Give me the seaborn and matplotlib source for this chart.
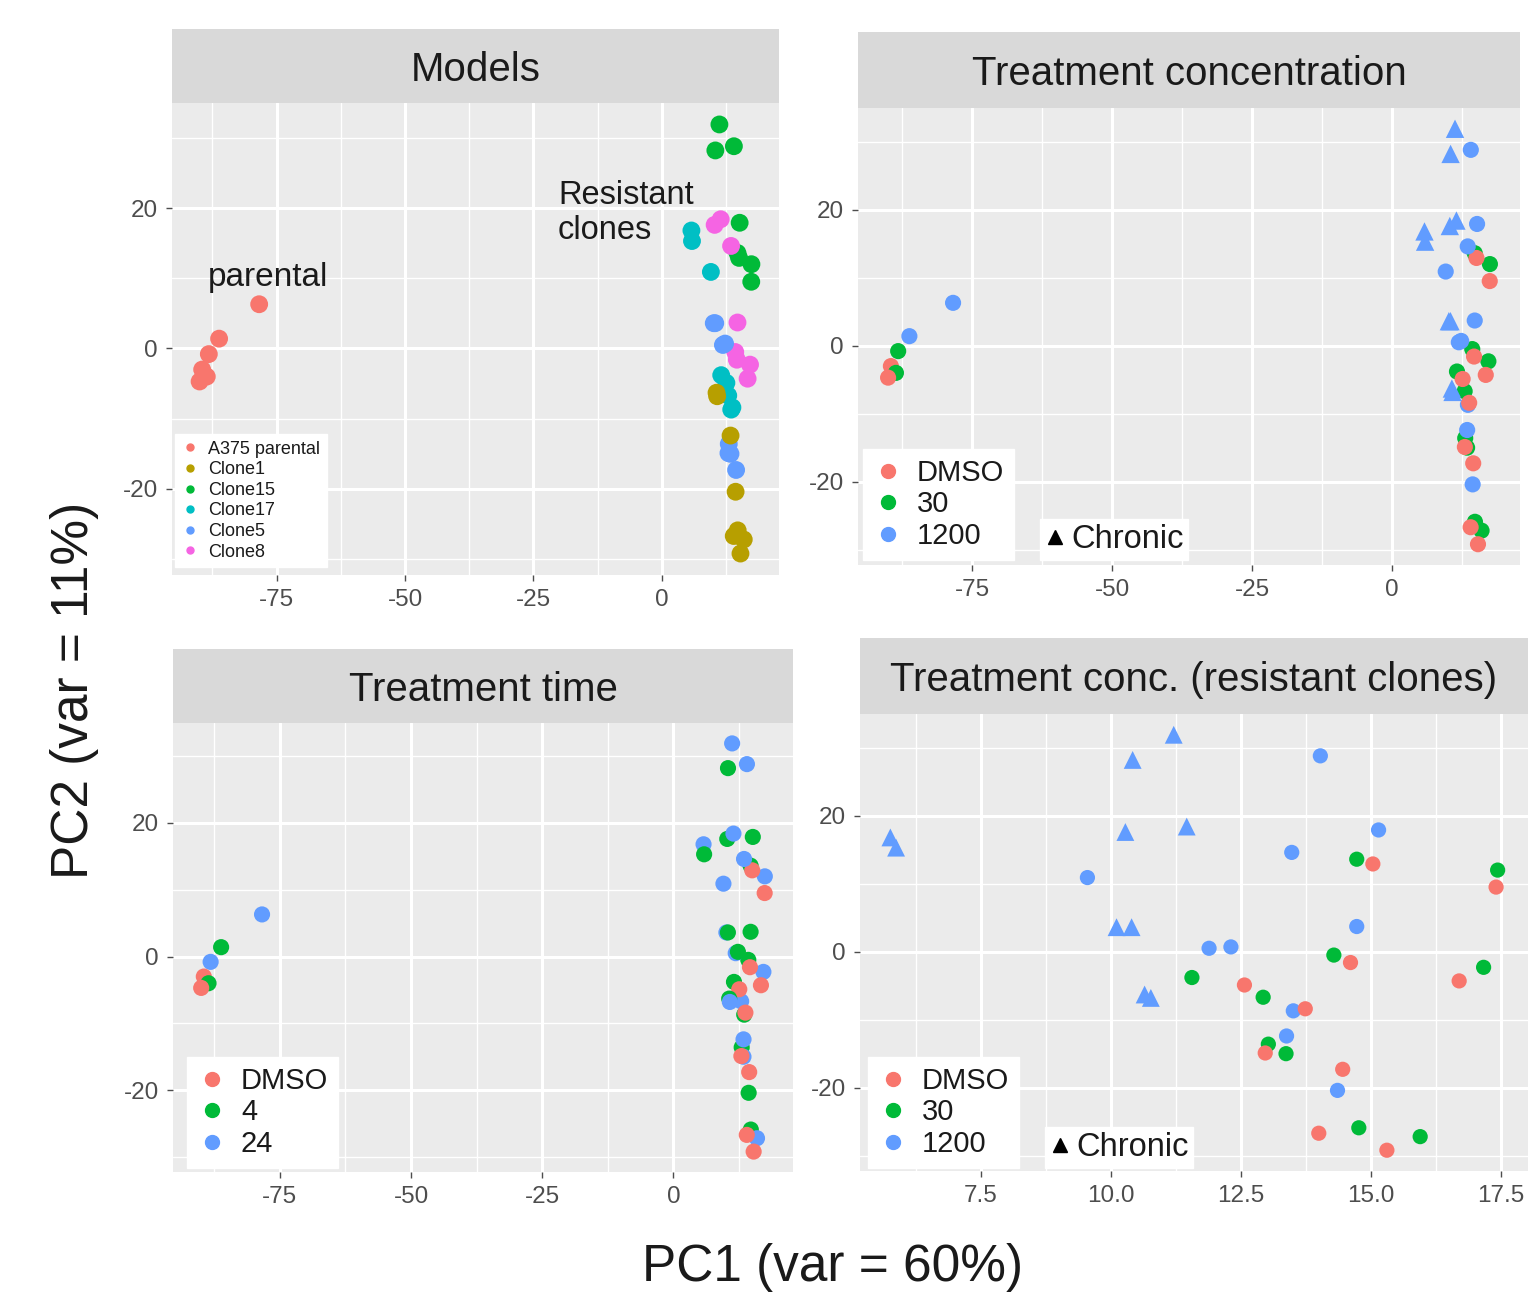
import matplotlib
matplotlib.use("Agg")
import matplotlib.pyplot as plt
from matplotlib.lines import Line2D
from matplotlib.ticker import AutoMinorLocator, FixedLocator
import seaborn as sns
import pandas as pd

sns.set_theme(style="darkgrid", rc={"axes.facecolor": "#EBEBEB", "grid.color": "white"})
plt.rcParams['font.family'] = ['Liberation Sans', 'DejaVu Sans']
plt.rcParams['axes.unicode_minus'] = False

# one row per sample: 6 parental, then 8 per resistant clone
pc1 = [-78.4, -86.2, -88.2, -89.5, -88.6, -90.0,
       11.21, 10.42, 14.03, 15.15, 14.73, 17.44, 15.04, 17.41,
       10.28, 11.46, 13.48, 14.73, 14.29, 17.17, 14.61, 16.70,
       5.76, 5.87, 9.55, 13.51, 11.56, 12.93, 12.57, 13.74,
       10.11, 10.40, 11.89, 12.31, 13.03, 13.37, 12.97, 14.46,
       10.65, 10.77, 13.38, 14.36, 14.77, 15.95, 14.00, 15.31]
pc2 = [6.3, 1.4, -0.8, -3.0, -4.0, -4.7,
       31.9, 28.2, 28.8, 17.9, 13.6, 12.0, 12.9, 9.5,
       17.6, 18.4, 14.6, 3.7, -0.5, -2.3, -1.6, -4.3,
       16.8, 15.3, 10.9, -8.7, -3.8, -6.7, -4.9, -8.4,
       3.6, 3.6, 0.5, 0.7, -13.6, -15.0, -14.9, -17.3,
       -6.3, -6.8, -12.4, -20.4, -25.9, -27.2, -26.7, -29.2]
model = (["A375 parental"] * 6 + ["Clone15"] * 8 + ["Clone8"] * 8
         + ["Clone17"] * 8 + ["Clone5"] * 8 + ["Clone1"] * 8)
conc = (["1200", "1200", "30", "DMSO", "30", "DMSO"]
        + ["1200", "1200", "1200", "1200", "30", "30", "DMSO", "DMSO"] * 5)
time = (["24", "4", "24", "DMSO", "4", "DMSO"]
        + ["24", "4", "24", "4", "4", "24", "DMSO", "DMSO"]
        + ["4", "24", "24", "4", "4", "24", "DMSO", "DMSO"]
        + ["24", "4", "24", "4", "4", "24", "DMSO", "DMSO"]
        + ["24", "4", "24", "4", "4", "24", "DMSO", "DMSO"]
        + ["4", "24", "24", "4", "4", "24", "DMSO", "DMSO"])
chronic = ["no"] * 6 + ["yes", "yes", "no", "no", "no", "no", "no", "no"] * 5

model_order = ["A375 parental", "Clone1", "Clone15", "Clone17", "Clone5", "Clone8"]
model_colors = ["#F8766D", "#B79F00", "#00BA38", "#00BFC4", "#619CFF", "#F564E3"]
conc_order = ["DMSO", "30", "1200"]
time_order = ["DMSO", "4", "24"]
three_colors = ["#F8766D", "#00BA38", "#619CFF"]

df = pd.DataFrame({"PC1": pc1, "PC2": pc2, "Model": model, "Conc": conc,
                   "Time": time, "Chronic": chronic})
clones = df[df["Model"] != "A375 parental"]

W, H = 1532, 1293
fig = plt.figure(figsize=(W / 100, H / 100), dpi=100)


def panel(x0, y0, x1, y1, strip_top, title):
    ax = fig.add_axes([x0 / W, 1 - y1 / H, (x1 - x0) / W, (y1 - y0) / H])
    st = fig.add_axes([x0 / W, 1 - y0 / H, (x1 - x0) / W, (y0 - strip_top) / H])
    st.set_facecolor("#D9D9D9")
    st.set_xticks([])
    st.set_yticks([])
    st.grid(False)
    for s in st.spines.values():
        s.set_visible(False)
    st.text(0.5, 0.45, title, ha="center", va="center", fontsize=29, color="#1A1A1A")
    for s in ax.spines.values():
        s.set_visible(False)
    return ax


def finish(ax, xticks, xfmt):
    ax.set_xlabel("")
    ax.set_ylabel("")
    ax.xaxis.set_major_locator(FixedLocator(xticks))
    ax.set_xticklabels([xfmt.format(v) for v in xticks])
    ax.yaxis.set_major_locator(FixedLocator([-20, 0, 20]))
    ax.set_yticklabels(["-20", "0", "20"])
    ax.xaxis.set_minor_locator(AutoMinorLocator(2))
    ax.yaxis.set_minor_locator(AutoMinorLocator(2))
    ax.grid(which="major", color="white", lw=2.2)
    ax.grid(which="minor", color="white", lw=1.0)
    ax.tick_params(which="major", bottom=True, left=True, length=4, width=1,
                   color="#4D4D4D", labelsize=17.5, labelcolor="#4D4D4D", pad=6)
    ax.tick_params(which="minor", bottom=False, left=False, length=0)


def color_legend(ax, labels, colors, anchor, fs, ms, spacing):
    handles = [Line2D([], [], marker="o", ls="", color=c, markersize=ms) for c in colors]
    leg = ax.legend(handles, labels, loc="lower left", bbox_to_anchor=anchor,
                    borderaxespad=0, fontsize=fs, frameon=True, facecolor="white",
                    edgecolor="white", framealpha=1, fancybox=False,
                    handlelength=1.0, handletextpad=0.5, labelspacing=spacing,
                    borderpad=0.35)
    for t in leg.get_texts():
        t.set_color("#1A1A1A")
    return leg


def chronic_legend(ax, anchor):
    h = [Line2D([], [], marker="^", ls="", color="black", markersize=10)]
    leg = ax.legend(h, ["Chronic"], loc="lower left", bbox_to_anchor=anchor,
                    borderaxespad=0, fontsize=23.5, frameon=True, facecolor="white",
                    edgecolor="white", framealpha=1, fancybox=False,
                    handlelength=0.6, handletextpad=0.2, borderpad=0.15)
    for t in leg.get_texts():
        t.set_color("#1A1A1A")
    return leg


left_ticks = [-75, -50, -25, 0]

# Models
ax1 = panel(172, 103, 779, 575, 29, "Models")
sns.scatterplot(data=df, x="PC1", y="PC2", hue="Model", hue_order=model_order,
                palette=model_colors, s=165, linewidth=0, legend=False, ax=ax1)
finish(ax1, left_ticks, "{:g}")
ax1.text(-20.2, 19.3, "Resistant\nclones", fontsize=23.5, ha="left", va="center",
         linespacing=1.2, color="#1A1A1A")
ax1.text(-76.7, 10.1, "parental", fontsize=24, ha="center", va="center", color="#1A1A1A")
color_legend(ax1, model_order, model_colors, (0.005, 0.017), 13, 5, 0.2)

# Treatment concentration
ax2 = panel(858, 108, 1520, 565, 32, "Treatment concentration")
sns.scatterplot(data=df, x="PC1", y="PC2", hue="Conc", hue_order=conc_order,
                palette=three_colors, style="Chronic", style_order=["no", "yes"],
                markers={"no": "o", "yes": "^"}, size="Chronic",
                sizes={"no": 135, "yes": 175}, linewidth=0, legend=False, ax=ax2)
finish(ax2, left_ticks, "{:g}")
l2 = color_legend(ax2, conc_order, three_colors, (0.0076, 0.011), 21, 10, 0.12)
ax2.add_artist(l2)
chronic_legend(ax2, (0.275, 0.011))

# Treatment time
ax3 = panel(173, 723, 793, 1172, 649, "Treatment time")
sns.scatterplot(data=df, x="PC1", y="PC2", hue="Time", hue_order=time_order,
                palette=three_colors, s=135, linewidth=0, legend=False, ax=ax3)
finish(ax3, left_ticks, "{:g}")
color_legend(ax3, time_order, three_colors, (0.0226, 0.009), 21, 10, 0.12)

# Treatment conc. (resistant clones)
ax4 = panel(860, 714, 1528, 1171, 638, "Treatment conc. (resistant clones)")
sns.scatterplot(data=clones, x="PC1", y="PC2", hue="Conc", hue_order=conc_order,
                palette=three_colors, style="Chronic", style_order=["no", "yes"],
                markers={"no": "o", "yes": "^"}, size="Chronic",
                sizes={"no": 120, "yes": 165}, linewidth=0, legend=False, ax=ax4)
finish(ax4, [7.5, 10.0, 12.5, 15.0, 17.5], "{:.1f}")
l4 = color_legend(ax4, conc_order, three_colors, (0.012, 0.0066), 21, 10, 0.12)
ax4.add_artist(l4)
chronic_legend(ax4, (0.277, 0.0066))

fig.text(75 / W, 1 - 690 / H, "PC2 (var = 11%)", rotation=90, fontsize=37,
         ha="center", va="center", color="#1A1A1A")
fig.text(832 / W, 1 - 1268 / H, "PC1 (var = 60%)", fontsize=37,
         ha="center", va="center", color="#1A1A1A")

fig.savefig("out.png", dpi=100, facecolor="white")
